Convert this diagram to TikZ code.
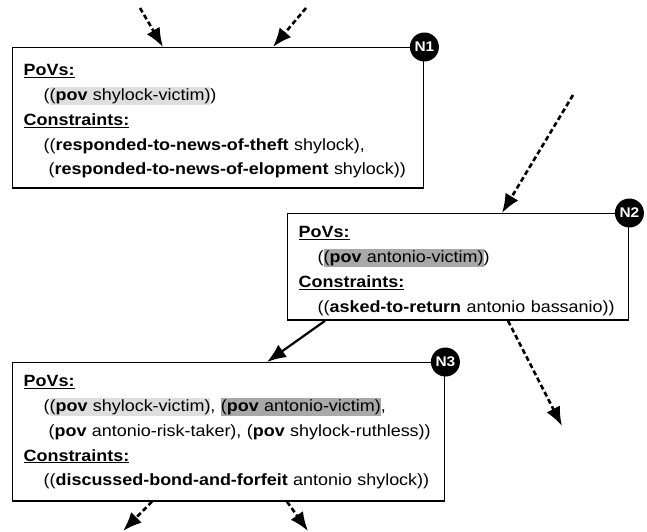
\documentclass[tikz,border=0pt]{standalone}
\usepackage{fontspec}
\setmainfont[FakeStretch=1.1]{Liberation Sans}
\usepackage{xcolor}
\usetikzlibrary{positioning,arrows.meta}
\definecolor{lightpov}{gray}{0.87}
\definecolor{darkpov}{gray}{0.66}
\setlength{\fboxsep}{0pt}
\newcommand{\povmark}[2]{\colorbox{#1}{\rule[-4.5pt]{0pt}{18.5pt}#2}}
\newcommand{\head}[1]{\underline{\textbf{#1}}}
\begin{document}
\begin{tikzpicture}
    \tikzset{x=1pt,y=-1pt,every path/.style={>={Latex[length=19pt,width=15pt]}},
      povbox/.style={draw,line width=1.4pt,anchor=north west,align=left,inner xsep=11pt,inner ysep=0pt,
        font=\fontsize{16.3}{24.8}\selectfont},
      tag/.style={circle,fill=black,text=white,minimum size=29pt,inner sep=0pt,font=\bfseries\fontsize{14}{14}\selectfont},
      flow/.style={->,line width=2.6pt,dash pattern=on 5pt off 3pt}}
    \useasboundingbox (0,0) rectangle (647,531);
    \node [povbox,text width=389pt] (n1) at (12,47) {\rule{0pt}{28pt}\head{PoVs:}\\
      \hspace*{20pt}(\povmark{lightpov}{(\textbf{pov} shylock-victim)})\\
      \head{Constraints:}\\
      \hspace*{20pt}((\textbf{responded-to-news-of-theft} shylock),\\
      \hspace*{25pt}(\textbf{responded-to-news-of-elopment} shylock))\rule[-13pt]{0pt}{0pt}};
    \node [povbox,text width=319pt] (n2) at (287,213) {\rule{0pt}{24pt}\head{PoVs:}\\
      \hspace*{19pt}(\povmark{darkpov}{(\textbf{pov} antonio-victim)})\\
      \head{Constraints:}\\
      \hspace*{19pt}((\textbf{asked-to-return} antonio bassanio))\rule[-8pt]{0pt}{0pt}};
    \node [povbox,text width=410pt] (n3) at (12,362) {\rule{0pt}{24pt}\head{PoVs:}\\
      \hspace*{20pt}(\povmark{lightpov}{(\textbf{pov} shylock-victim)}, \povmark{darkpov}{(\textbf{pov} antonio-victim)},\\
      \hspace*{25pt}(\textbf{pov} antonio-risk-taker), (\textbf{pov} shylock-ruthless))\\
      \head{Constraints:}\\
      \hspace*{20pt}((\textbf{discussed-bond-and-forfeit} antonio shylock))\rule[-15pt]{0pt}{0pt}};
    \node [tag] (t1) at (n1.north east) {N1};
    \node [tag] (t2) at (n2.north east) {N2};
    \node [tag] (t3) at (n3.north east) {N3};
    % loose ends
    \coordinate (in1) at (140,8);
    \coordinate (in2) at (306,8);
    \coordinate (in3) at (573,95);
    \coordinate (out2) at (562,426);
    \coordinate (out3a) at (123,531);
    \coordinate (out3b) at (308,531);
    \draw [flow] (in1) -- ([xshift=151pt]n1.north west);
    \draw [flow] (in2) -- ([xshift=261pt]n1.north west);
    \draw [flow] (in3) -- ([xshift=215pt]n2.north west);
    \draw [->,line width=2.2pt] ([xshift=38pt]n2.south west) -- ([xshift=255pt]n3.north west);
    \draw [flow] ([xshift=221pt]n2.south west) -- (out2);
    \draw [flow] ([xshift=140pt]n3.south west) -- (out3a);
    \draw [flow] ([xshift=275pt]n3.south west) -- (out3b);
\end{tikzpicture}
\end{document}
